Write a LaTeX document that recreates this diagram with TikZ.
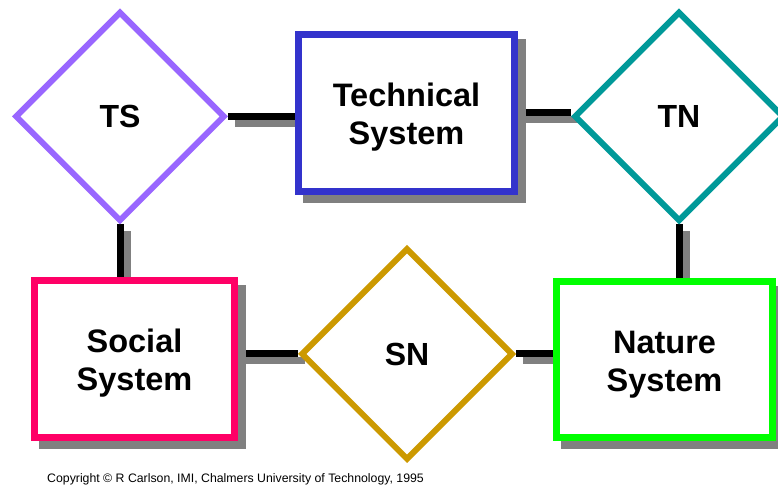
\documentclass[tikz,border=0pt]{standalone}
\usepackage{fontspec}
\setmainfont{Liberation Sans}
\usetikzlibrary{shapes.geometric}
\usetikzlibrary{shadows}
\usetikzlibrary{backgrounds}
\newcommand{\toppad}{\rule{0pt}{32bp}}
\begin{document}
\begin{tikzpicture}[line cap=butt,line join=miter,x=1bp,y=1bp,
  sysbox/.style={rectangle,draw,fill=white,line width=7bp,inner sep=0pt,align=center,
    font=\fontsize{32.5bp}{38bp}\selectfont\bfseries,
    drop shadow={shadow xshift=8bp,shadow yshift=-8bp,fill=shadowgrey,draw=shadowgrey,line width=7bp,opacity=1}},
  relbox/.style={diamond,draw,fill=white,line width=6bp,inner sep=0pt,
    font=\fontsize{32bp}{38bp}\selectfont\bfseries},
  link/.style={line width=7bp,black,
    preaction={draw=shadowgrey,line width=7bp,transform canvas={shift={(7bp,-7bp)}}}}]
\definecolor{tsline}{rgb}{0.6,0.4,1.}
\definecolor{techline}{rgb}{0.2,0.2,0.8}
\definecolor{tnline}{rgb}{0.,0.6,0.6}
\definecolor{socline}{rgb}{1.,0.,0.4}
\definecolor{snline}{rgb}{0.8,0.6,0.}
\definecolor{natline}{rgb}{0.,1.,0.}
\definecolor{shadowgrey}{rgb}{0.5,0.5,0.5}
\useasboundingbox (0,0) rectangle (778,489);
\clip (0,0) rectangle (778,489);
% systems
\node[sysbox,draw=techline,minimum width=216bp,minimum height=157bp] (tech) at (406.5,376) {\toppad Technical\\System};
\node[sysbox,draw=socline,minimum width=200bp,minimum height=157bp] (soc) at (134.5,130) {\toppad Social\\System};
\node[sysbox,draw=natline,minimum width=216bp,minimum height=156bp] (nat) at (664.5,129.5) {\toppad Nature\\System};
% relations
\node[relbox,draw=tsline,minimum width=210bp,minimum height=210bp] (ts) at (120,372.5) {TS};
\node[relbox,draw=tnline,minimum width=210bp,minimum height=210bp] (tn) at (679,372.5) {TN};
\node[relbox,draw=snline,minimum width=212bp,minimum height=212bp] (sn) at (407,135) {SN};
\begin{scope}[on background layer]
\draw [link] (ts.east) -- (ts.east -| tech.west);
\draw [link] (tech.east) -- (tech.east -| tn.west);
\draw [link] (ts.south) -- (ts.south |- soc.north);
\draw [link] (tn.south) -- (tn.south |- nat.north);
\draw [link] (sn.west) -- (sn.west -| soc.east);
\draw [link] (sn.east) -- (sn.east -| nat.west);
\end{scope}
\node[anchor=base west,inner sep=0pt,font=\fontsize{12.3bp}{14bp}\selectfont] (copy) at (47,6.5) {Copyright © R Carlson, IMI, Chalmers University of Technology, 1995};
\end{tikzpicture}
\end{document}
